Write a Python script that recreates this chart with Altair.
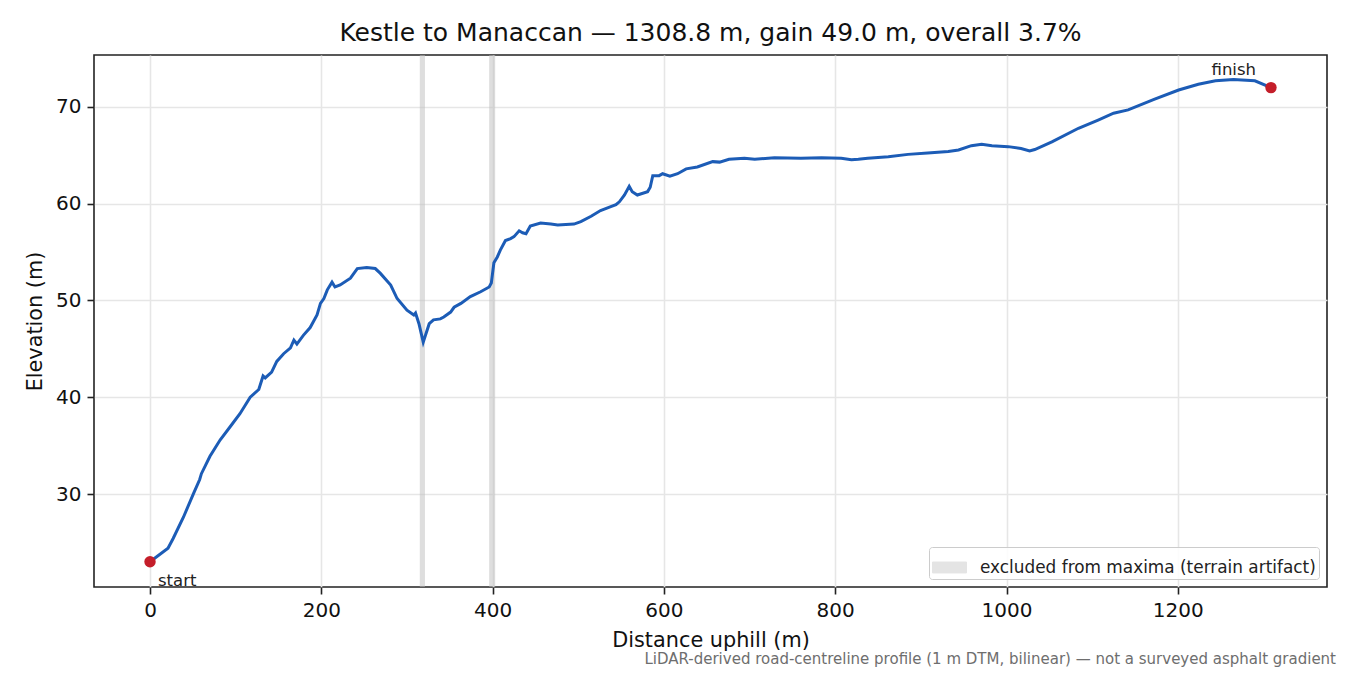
import altair as alt
import pandas as pd

# profile (distance along road, elevation)
distance_m = [
    0, 21, 27, 39, 51, 58, 60, 70, 82, 94, 105, 117, 127, 132, 134.5, 142, 148,
    156, 164, 168, 171.5, 179, 187, 195, 199, 203, 207, 212.5, 216, 222, 234, 242,
    253, 263, 269, 281, 288.5, 300, 308, 310, 314, 319, 326, 331, 339, 343, 351,
    355, 363, 374, 386, 396, 398.5, 401.5, 405.5, 409, 415, 421, 425, 431, 435,
    439, 444, 456, 468, 476, 495, 503, 515, 526, 538, 544, 548, 554, 559.5, 563,
    569, 581, 584, 587, 594.5, 598.5, 607, 616, 626, 639, 657, 665, 676, 694, 706,
    729, 760, 784, 807, 819, 827, 838, 862, 885, 908, 932, 944, 959, 971, 983,
    1002, 1017, 1027, 1033, 1053, 1084, 1107, 1125, 1142, 1173, 1201, 1224, 1244,
    1265, 1290, 1308.8,
]
elevation_m = [
    23.0, 24.4, 25.4, 27.6, 30.1, 31.5, 32.1, 33.9, 35.6, 37.0, 38.3, 40.0, 40.8,
    42.2, 42.0, 42.6, 43.7, 44.5, 45.1, 45.9, 45.5, 46.4, 47.2, 48.5, 49.7, 50.2,
    51.1, 51.9, 51.4, 51.6, 52.3, 53.3, 53.4, 53.3, 52.8, 51.6, 50.2, 49.0, 48.5,
    48.7, 47.6, 45.7, 47.6, 48.0, 48.1, 48.3, 48.8, 49.3, 49.7, 50.4, 50.9, 51.4,
    51.8, 53.9, 54.5, 55.2, 56.2, 56.4, 56.6, 57.2, 57.0, 56.9, 57.7, 58.0, 57.9,
    57.8, 57.9, 58.15, 58.7, 59.3, 59.7, 59.9, 60.2, 60.9, 61.8, 61.25, 60.9,
    61.25, 61.7, 62.9, 62.9, 63.1, 62.85, 63.1, 63.6, 63.8, 64.35, 64.3, 64.6,
    64.7, 64.6, 64.75, 64.7, 64.75, 64.7, 64.55, 64.6, 64.7, 64.85, 65.1, 65.25,
    65.4, 65.55, 66.0, 66.15, 66.0, 65.9, 65.7, 65.45, 65.6, 66.4, 67.8, 68.65,
    69.35, 69.7, 70.8, 71.75, 72.35, 72.7, 72.85, 72.7, 72.0,
]

# spans left out when picking maxima
excluded_start = [315, 396]
excluded_end = [321, 403]
excluded_label = "excluded from maxima (terrain artifact)"

x_ticks = [0, 200, 400, 600, 800, 1000, 1200]
y_ticks = [30, 40, 50, 60, 70]

title_text = "Kestle to Manaccan \u2014 1308.8 m, gain 49.0 m, overall 3.7%"
footer_text = ("LiDAR-derived road-centreline profile (1 m DTM, bilinear) "
               "\u2014 not a surveyed asphalt gradient")

W, H = 1233, 532
FONT = "DejaVu Sans"

profile = pd.DataFrame({"distance": distance_m, "elevation": elevation_m})
ends = pd.DataFrame({
    "distance": [distance_m[0], distance_m[-1]],
    "elevation": [elevation_m[0], elevation_m[-1]],
    "label": ["start", "finish"],
})
bands = pd.DataFrame({
    "x0": excluded_start,
    "x1": excluded_end,
    "what": [excluded_label] * len(excluded_start),
})

x_scale = alt.Scale(domain=[-65.4, 1374.2], nice=False, zero=False)
y_scale = alt.Scale(domain=[20.39, 75.37], nice=False, zero=False)

x_axis = alt.Axis(values=x_ticks, format="d", title="Distance uphill (m)",
                  titleY=59, titleBaseline="alphabetic")
y_axis = alt.Axis(values=y_ticks, format="d", title="Elevation (m)",
                  titleX=-53, titleY=H / 2, titleAngle=-90,
                  titleBaseline="alphabetic", titleAlign="center")

band_layer = alt.Chart(bands).mark_rect(opacity=0.5).encode(
    x=alt.X("x0:Q", scale=x_scale, axis=x_axis),
    x2="x1:Q",
    color=alt.Color(
        "what:N",
        scale=alt.Scale(range=["#bdbdbd"]),
        legend=alt.Legend(
            title=None,
            orient="bottom-right",
            offset=8,
            padding=3,
            strokeColor="#cccccc",
            fillColor="rgba(255,255,255,0.85)",
            cornerRadius=3,
            symbolType="M-1,-0.32H1V0.32H-1Z",
            symbolSize=1156,
            symbolOpacity=0.4,
            symbolStrokeColor="#bdbdbd",
            symbolStrokeWidth=1,
            labelFontSize=16.9,
            labelFont=FONT,
            labelColor="#222222",
            labelOffset=13,
            labelLimit=500,
        ),
    ),
)

line_layer = alt.Chart(profile).mark_line(color="#1c5cb6", strokeWidth=3).encode(
    x=alt.X("distance:Q", scale=x_scale, axis=x_axis),
    y=alt.Y("elevation:Q", scale=y_scale, axis=y_axis),
)

dots = alt.Chart(ends).mark_circle(size=130, color="#c41e2a", opacity=1).encode(
    x=alt.X("distance:Q", scale=x_scale),
    y=alt.Y("elevation:Q", scale=y_scale),
)

start_text = alt.Chart(ends).transform_filter(alt.datum.label == "start").mark_text(
    align="left", baseline="alphabetic", dx=8, dy=24, fontSize=16.5, font=FONT,
    color="#222222",
).encode(
    x=alt.X("distance:Q", scale=x_scale),
    y=alt.Y("elevation:Q", scale=y_scale),
    text="label:N",
)

finish_text = alt.Chart(ends).transform_filter(alt.datum.label == "finish").mark_text(
    align="right", baseline="alphabetic", dx=-15, dy=-13, fontSize=16.5, font=FONT,
    color="#222222",
).encode(
    x=alt.X("distance:Q", scale=x_scale),
    y=alt.Y("elevation:Q", scale=y_scale),
    text="label:N",
)

footer = alt.Chart(pd.DataFrame({"t": [footer_text]})).mark_text(
    align="right", baseline="alphabetic", fontSize=15, font=FONT, color="#6e6e6e",
).encode(
    x=alt.value(W + 9),
    y=alt.value(H + 77),
    text="t:N",
)

chart = alt.layer(
    band_layer, line_layer, dots, start_text, finish_text, footer
).properties(
    width=W,
    height=H,
    title=alt.TitleParams(
        title_text, anchor="middle", frame="group", fontSize=25, font=FONT,
        fontWeight="normal", color="#111111", baseline="alphabetic", offset=-11,
    ),
    autosize=alt.AutoSizeParams(type="none"),
    padding={"left": 86, "top": 47, "right": 15, "bottom": 80},
).configure(
    font=FONT,
).configure_view(
    stroke="#222222", strokeWidth=1.6,
).configure_axis(
    domain=False,
    grid=True,
    gridColor="#e6e6e6",
    gridWidth=1.6,
    ticks=True,
    tickColor="#222222",
    tickWidth=1.6,
    tickSize=7,
    labelFont=FONT,
    labelFontSize=20,
    labelColor="#111111",
    labelPadding=6,
    titleFont=FONT,
    titleFontSize=20.8,
    titleFontWeight="normal",
    titleColor="#111111",
)

chart.save("out.html", embed_options={"renderer": "svg", "actions": False})
